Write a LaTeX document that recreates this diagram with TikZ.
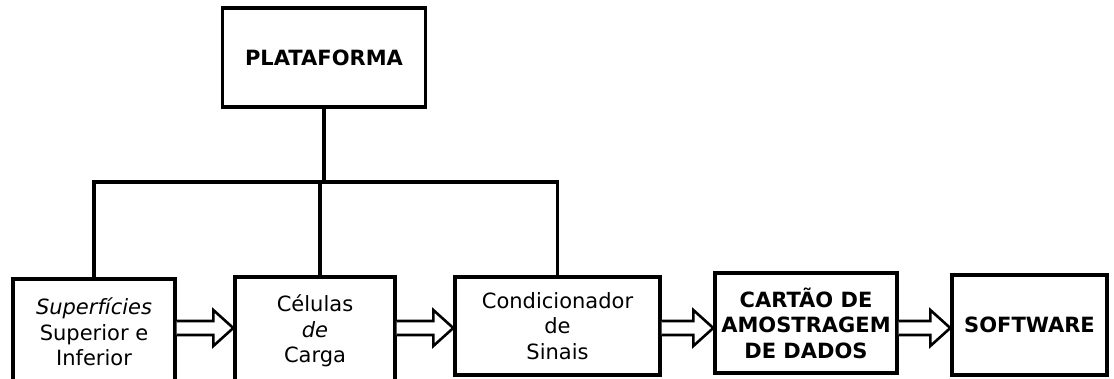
\documentclass[tikz,border=0pt]{standalone}
\usepackage{fontspec}
\setmainfont{DejaVu Sans}
\usetikzlibrary{calc}
\tikzset{
  blk/.style={draw=black, line width=3.4pt, fill=white, align=center, inner sep=0pt,
              font=\fontsize{21}{25.5}\selectfont},
  bblk/.style={blk, font=\fontsize{21}{25.5}\selectfont\bfseries},
  wire/.style={draw=black, line width=3.4pt},
  harrow/.style={draw=black, line width=2.6pt, fill=white, line join=miter}
}
\newcommand{\hollowarrow}[2]{%
  \draw[harrow] let \p1=(#1.east), \p2=(#2.west), \p3=(ay) in
    (\x1,\y3+7pt) -- (\x2-20pt,\y3+7pt) -- (\x2-20pt,\y3+18pt) -- (\x2,\y3)
    -- (\x2-20pt,\y3-18pt) -- (\x2-20pt,\y3-7pt) -- (\x1,\y3-7pt);}
\begin{document}
\begin{tikzpicture}[x=1pt,y=-1pt]
\useasboundingbox (0,0) rectangle (1114,378);
\clip (0,0) rectangle (1114,378);
\coordinate (busy) at (0,182);
\coordinate (ay) at (0,328);
\node[bblk, minimum width=203pt, minimum height=99pt] (plat) at (324,57.5) {PLATAFORMA};
\node[blk, minimum width=162pt, minimum height=106pt] (b1) at (94,332) {{\itshape Superfícies}\\Superior e\\Inferior};
\node[blk, minimum width=160pt, minimum height=108pt] (b2) at (315,331) {Células\\{\itshape de}\\Carga};
\node[blk, minimum width=205pt, minimum height=98pt] (b3) at (557.5,326) {Condicionador\\de\\Sinais};
\node[bblk, minimum width=182pt, minimum height=100pt] (b4) at (806,323) {CARTÃO DE\\AMOSTRAGEM\\DE DADOS};
\node[bblk, minimum width=155pt, minimum height=100pt] (b5) at (1029.5,325) {SOFTWARE};
\draw[wire] (plat.south) -- (plat.south |- busy);
\draw[wire] (b1.north) -- (b1.north |- busy) -- (b3.north |- busy) -- (b3.north);
\draw[wire] ([xshift=5pt]b2.north) -- ([xshift=5pt]b2.north |- busy);
\hollowarrow{b1}{b2}
\hollowarrow{b2}{b3}
\hollowarrow{b3}{b4}
\hollowarrow{b4}{b5}
\end{tikzpicture}
\end{document}
